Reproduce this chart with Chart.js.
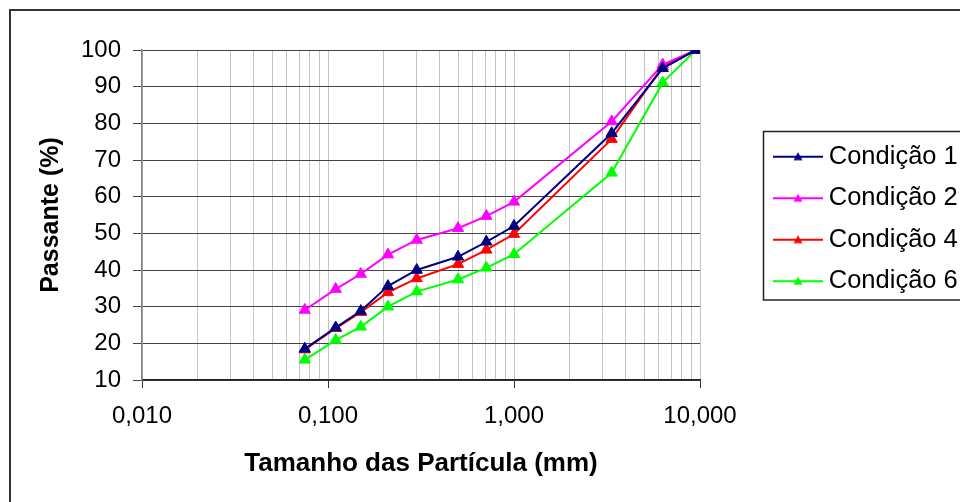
<!DOCTYPE html>
<html><head><meta charset="utf-8">
<script src="https://cdn.jsdelivr.net/npm/chart.js@4.4.1/dist/chart.umd.min.js"></script>
<style>html,body{margin:0;padding:0;background:#fff;}canvas{display:block;}</style>
</head><body>
<canvas id="c" width="960" height="502"></canvas>
<script>
// Particle sizes (mm)
const sizesMm = [0.075, 0.11, 0.15, 0.21, 0.3, 0.5, 0.71, 1.0, 3.35, 6.3, 9.5];
// Passante (%) per condition
const condicao1 = [18.5, 24.3, 28.8, 35.6, 40.0, 43.6, 47.7, 52.0, 77.3, 95.0, 100];
const condicao2 = [29.1, 34.8, 38.9, 44.2, 48.2, 51.4, 54.7, 58.6, 80.5, 96.0, 100];
const condicao4 = [18.3, 24.1, 28.5, 33.9, 37.7, 41.6, 45.5, 49.8, 75.7, 95.5, 100];
const condicao6 = [15.5, 20.9, 24.5, 30.0, 34.1, 37.4, 40.6, 44.3, 66.5, 91.1, 100];
const seriesNames = ['Condição 1', 'Condição 2', 'Condição 4', 'Condição 6'];
const seriesColors = ['#000080', '#FF00FF', '#FF0000', '#00FF00'];
// Axis ticks
const xDecades = [0.01, 0.1, 1, 10];
const yTicks = [10, 20, 30, 40, 50, 60, 70, 80, 90, 100];
const xTitle = 'Tamanho das Partícula (mm)';
const yTitle = 'Passante (%)';

const seriesValues = [condicao1, condicao2, condicao4, condicao6];

function isDecade(v) {
  const l = Math.log10(v);
  return Math.abs(l - Math.round(l)) < 1e-9;
}

function legendIcon(color) {
  const c = document.createElement('canvas');
  c.width = 50; c.height = 14;
  const g = c.getContext('2d');
  g.strokeStyle = color; g.lineWidth = 2;
  g.beginPath(); g.moveTo(0, 7); g.lineTo(50, 7); g.stroke();
  g.fillStyle = color;
  g.beginPath(); g.moveTo(25, 2.5); g.lineTo(29.5, 10.5); g.lineTo(20.5, 10.5); g.closePath(); g.fill();
  return c;
}

const datasets = seriesNames.map((name, i) => ({
  label: name,
  data: sizesMm.map((x, j) => ({ x: x, y: seriesValues[i][j] })),
  borderColor: seriesColors[i],
  backgroundColor: seriesColors[i],
  borderWidth: 2,
  pointStyle: 'triangle',
  pointRadius: 6.5,
  pointBorderWidth: 1,
  pointBackgroundColor: seriesColors[i],
  pointBorderColor: seriesColors[i],
  showLine: true,
  tension: 0,
  fill: false
}));

const framePlugin = {
  id: 'frame',
  afterInit(chart) {
    const lg = chart.legend;
    if (lg && !lg._patched) {
      const orig = lg.fit;
      lg.fit = function () { orig.call(this); this.width = 260; };
      lg._patched = true;
    }
  },
  afterLayout(chart) {
    const lg = chart.legend;
    if (!lg) return;
    lg.left = 764; lg.top = 128; lg.right = 1100; lg.bottom = 340;
    lg.width = lg.right - lg.left; lg.height = lg.bottom - lg.top;
  },
  afterDraw(chart) {
    const ctx = chart.ctx;
    ctx.save();
    ctx.strokeStyle = '#333'; ctx.lineWidth = 2;
    ctx.strokeRect(10, 10, 1100, 700);
    ctx.strokeStyle = '#222'; ctx.lineWidth = 1.5;
    ctx.strokeRect(763.5, 131.5, 300, 168.5);
    ctx.restore();
  }
};

Chart.defaults.font.family = "'Liberation Sans', Arial, sans-serif";
Chart.defaults.color = '#000';

new Chart(document.getElementById('c'), {
  type: 'scatter',
  data: { datasets: datasets },
  plugins: [framePlugin],
  options: {
    responsive: false,
    animation: false,
    devicePixelRatio: 1,
    layout: { padding: { top: 50, left: 0, right: 0, bottom: 0 } },
    plugins: {
      tooltip: { enabled: false },
      legend: {
        position: 'right',
        align: 'start',
        labels: {
          usePointStyle: true,
          pointStyleWidth: 36,
          padding: 16,
          color: '#000',
          font: { size: 25.5 },
          generateLabels(chart) {
            return chart.data.datasets.map((ds, i) => ({
              text: ds.label,
              pointStyle: legendIcon(seriesColors[i]),
              fillStyle: seriesColors[i],
              strokeStyle: seriesColors[i],
              lineWidth: 0,
              hidden: false,
              datasetIndex: i
            }));
          }
        }
      }
    },
    scales: {
      x: {
        type: 'logarithmic',
        min: xDecades[0],
        max: xDecades[xDecades.length - 1],
        afterBuildTicks(scale) {
          const t = [];
          for (let d = 0; d < xDecades.length - 1; d++) {
            for (let k = 1; k <= 9; k++) t.push({ value: k * xDecades[d] });
          }
          t.push({ value: xDecades[xDecades.length - 1] });
          scale.ticks = t;
        },
        afterFit(scale) { scale.height = 122; },
        ticks: {
          autoSkip: false,
          maxRotation: 0,
          padding: 14,
          font: { size: 24 },
          color: '#000',
          callback(v) { return isDecade(v) ? Number(v).toFixed(3).replace('.', ',') : ''; }
        },
        grid: {
          color: '#c4c4c4',
          lineWidth: 1,
          tickLength: 8,
          tickColor(ctx) { return ctx.tick && isDecade(ctx.tick.value) ? '#333' : 'rgba(0,0,0,0)'; }
        },
        border: { color: '#222', width: 1.5 },
        title: {
          display: true,
          text: xTitle,
          font: { size: 26, weight: 'bold' },
          color: '#000',
          padding: { top: 0, bottom: 23 }
        }
      },
      y: {
        type: 'linear',
        min: yTicks[0],
        max: yTicks[yTicks.length - 1],
        afterBuildTicks(scale) { scale.ticks = yTicks.map(v => ({ value: v })); },
        afterFit(scale) { scale.width = 142; },
        ticks: { padding: 12, font: { size: 24 }, color: '#000' },
        grid: { color: '#444', lineWidth: 1, tickLength: 9, tickColor: '#444' },
        border: { color: '#808080', width: 1.5 },
        title: {
          display: true,
          text: yTitle,
          font: { size: 25, weight: 'bold' },
          color: '#000',
          padding: { top: 36, bottom: 0 }
        }
      }
    }
  }
});
</script>
</body></html>
